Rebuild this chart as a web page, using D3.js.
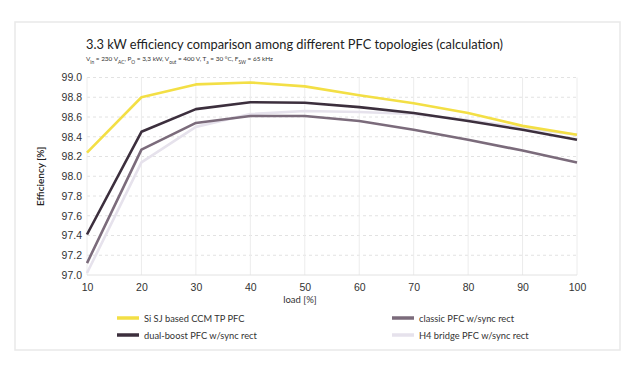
<!DOCTYPE html>
<html><head><meta charset="utf-8">
<script src="https://cdn.jsdelivr.net/npm/d3@7"></script>
<style>body{margin:0;background:#fff;} svg{display:block;font-family:"Source Sans Pro",Lato,"Open Sans",sans-serif;}</style>
</head><body><svg id="c" width="640" height="368"></svg>
<script>
const loads = [10,20,30,40,50,60,70,80,90,100];
const siSJ = [98.24,98.80,98.93,98.95,98.91,98.82,98.74,98.64,98.51,98.42];
const dualBoost = [97.41,98.45,98.68,98.75,98.745,98.70,98.64,98.56,98.47,98.37];
const classic = [97.12,98.27,98.54,98.61,98.61,98.56,98.47,98.37,98.26,98.14];
const h4 = [97.02,98.14,98.50,98.63,98.66,98.65,98.63,98.57,98.49,98.42];
const yTicks = [97.0,97.2,97.4,97.6,97.8,98.0,98.2,98.4,98.6,98.8,99.0];
const seriesNames = ["Si SJ based CCM TP PFC","dual-boost PFC w/sync rect","classic PFC w/sync rect","H4 bridge PFC w/sync rect"];
const seriesColors = ["#f3df45","#3c2f3d","#7b6b7b","#e6e2ec"];
const seriesData = [siSJ, dualBoost, classic, h4];
const drawOrder = [3,2,1,0];

const svg = d3.select("#c");
svg.append("rect").attr("x",15).attr("y",22).attr("width",605).attr("height",328)
  .attr("fill","#fff").attr("stroke","#e9e9e9").attr("stroke-width",1.5);

const m = {l:87, r:577, t:77.5, b:275};
const x = d3.scaleLinear().domain([10,100]).range([m.l,m.r]);
const y = d3.scaleLinear().domain([97,99]).range([m.b,m.t]);

// grid
svg.append("g").selectAll("line").data(yTicks.slice(1)).join("line")
  .attr("x1",m.l).attr("x2",m.r).attr("y1",d=>y(d)).attr("y2",d=>y(d))
  .attr("stroke","#e2e2e2").attr("stroke-dasharray","3,3").attr("stroke-width",1);
svg.append("g").selectAll("line").data(loads).join("line")
  .attr("x1",d=>x(d)).attr("x2",d=>x(d)).attr("y1",m.t).attr("y2",m.b)
  .attr("stroke","#ececec").attr("stroke-width",1);
svg.append("line").attr("x1",m.l).attr("x2",m.r).attr("y1",m.b).attr("y2",m.b).attr("stroke","#e2e2e2");

// axes
const xa = svg.append("g").attr("transform",`translate(0,${m.b})`)
  .call(d3.axisBottom(x).tickValues(loads).tickSize(0).tickPadding(9).tickFormat(d3.format("d")));
xa.select(".domain").remove();
xa.selectAll("text").attr("fill","#333").style("font-size","10.5px");
const ya = svg.append("g").attr("transform",`translate(${m.l},0)`)
  .call(d3.axisLeft(y).tickValues(yTicks).tickSize(0).tickPadding(5).tickFormat(d3.format(".1f")));
ya.select(".domain").remove();
ya.selectAll("text").attr("fill","#333").style("font-size","10.5px");

// lines
const line = d3.line().x((d,i)=>x(loads[i])).y(d=>y(d));
drawOrder.forEach(i=>{
  svg.append("path").datum(seriesData[i]).attr("d",line).attr("fill","none")
    .attr("stroke",seriesColors[i]).attr("stroke-width",2.6).attr("stroke-linejoin","round");
});

// titles
svg.append("text").attr("x",86).attr("y",49).attr("fill","#222").style("font-size","14px")
  .attr("textLength",417).attr("lengthAdjust","spacingAndGlyphs")
  .text("3.3 kW efficiency comparison among different PFC topologies (calculation)");
const sub = svg.append("text").attr("x",86).attr("y",61).attr("fill","#333").style("font-size","6.4px");
const subParts = [["V",""],["in","s"],[" = 230 V",""],["AC","s"],[", P",""],["O","s"],[" = 3,3 kW, V",""],["out","s"],[" = 400 V, T",""],["a","s"],[" = 30 °C, F",""],["SW","s"],[" = 65 kHz",""]];
subParts.forEach(([t,s])=>{
  const ts = sub.append("tspan").text(t);
  if(s){ts.attr("baseline-shift","sub").style("font-size","4.8px");}
});

svg.append("text").attr("transform",`translate(44,${(m.t+m.b)/2}) rotate(-90)`)
  .attr("text-anchor","middle").attr("fill","#222").style("font-size","10px").style("font-weight","600")
  .text("Efficiency [%]");
svg.append("text").attr("x",300).attr("y",303).attr("text-anchor","middle").attr("fill","#333")
  .style("font-size","9.5px").text("load [%]");

// legend
const legPos = [[117,318],[117,335],[392,318],[392,335]];
seriesNames.forEach((n,i)=>{
  const [lx,ly] = legPos[i];
  svg.append("line").attr("x1",lx).attr("x2",lx+22).attr("y1",ly).attr("y2",ly)
    .attr("stroke",seriesColors[i]).attr("stroke-width",3.5);
  svg.append("text").attr("x",lx+27).attr("y",ly+3.5).attr("fill","#333").style("font-size","9.3px").text(n);
});
</script></body></html>
